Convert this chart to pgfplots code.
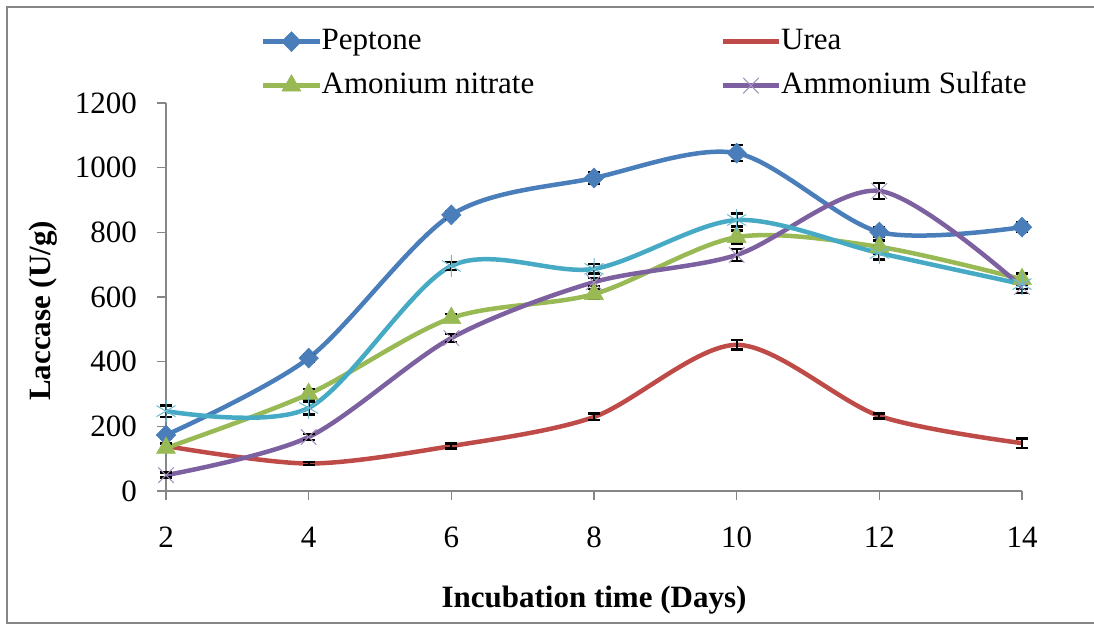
\documentclass[border=0pt]{standalone}
\usepackage{fontspec}
\setmainfont{Liberation Serif}
\usepackage{pgfplots}
\pgfplotsset{compat=1.18}
\definecolor{cPep}{HTML}{4A7EBB}
\definecolor{cUrea}{HTML}{BE4B48}
\definecolor{cNit}{HTML}{98B954}
\definecolor{cSul}{HTML}{7D60A0}
\definecolor{cCy}{HTML}{46AAC5}
\definecolor{axgray}{HTML}{868686}
\begin{document}
\begin{tikzpicture}
\useasboundingbox (0,0) rectangle (1094bp,626bp);
\draw[axgray, line width=2bp] (1094bp,3bp) -- (7bp,3bp) -- (7bp,619bp) -- (1094bp,619bp);
\begin{axis}[
  at={(166bp,135bp)}, anchor=south west,
  scale only axis, width=856bp, height=388bp,
  xmin=2, xmax=14, ymin=0, ymax=1200,
  xtick={2,4,...,14}, ytick={0,200,...,1200},
  axis lines=left, axis line style={-, axgray, line width=1.2bp},
  tick style={axgray, line width=1.2bp}, major tick length=9bp, tick align=outside,
  font=\fontsize{31bp}{36bp}\selectfont,
  /pgf/number format/assume math mode=true,
  /pgf/number format/1000 sep={},
  yticklabel style={anchor=east, inner sep=0pt, xshift=-20bp},
  xticklabel style={anchor=north, inner sep=0pt, yshift=-27bp},
  xlabel={\textbf{Incubation time (Days)}},
  ylabel={\textbf{Laccase (U/g)}},
  xlabel style={at={(axis description cs:0.5,-0.299)}, anchor=base},
  ylabel style={at={(axis description cs:-0.1355,0.464)}, anchor=base, rotate=0},
  clip=false,
  legend columns=2,
  legend style={draw=none, fill=none, inner sep=0pt, at={(axis description cs:0.111,1.196)}, anchor=north west,
    font=\fontsize{31bp}{36bp}\selectfont,
    nodes={inner sep=0pt, text height=22bp, text depth=7bp},
    row sep=15bp,
    /tikz/every odd column/.append style={column sep=0bp}},
  legend cell align=left,
  legend image code/.code={\draw[mark repeat=2,mark phase=2,#1] plot coordinates {(0bp,0bp)(28bp,0bp)(56bp,0bp)};},
  every axis plot/.append style={line width=4.5bp, smooth, tension=0.5},
  error bars/y dir=both, error bars/y explicit,
  error bars/error bar style={black, line width=2bp, solid},
  error bars/error mark options={black, line width=2.5bp, mark size=6bp, rotate=90},
]
\addplot[cPep, mark=diamond*, mark size=10bp, mark options={fill=cPep, line width=0.5bp, xscale=1.3}]
  table[x=x, y=y, y error=e] {
x y e
2 173 10
4 411 12
6 854 12
8 968 18
10 1045 25
12 801 15
14 816 15
};
\addlegendentry{\makebox[399bp][l]{Peptone}}
\addplot[cUrea, no markers]
  table[x=x, y=y, y error=e] {
x y e
2 139 8
4 85 5
6 139 8
8 229 10
10 452 15
12 232 8
14 148 15
};
\addlegendentry{Urea}
\addplot[cNit, mark=triangle*, mark size=11bp, mark options={fill=cNit, line width=0.5bp}]
  table[x=x, y=y, y error=e] {
x y e
2 133 12
4 300 15
6 535 12
8 609 15
10 785 20
12 755 20
14 655 18
};
\addlegendentry{\makebox[399bp][l]{Amonium nitrate}}
\addplot[cSul, mark=x, mark size=11bp, mark options={line width=1bp, draw=cSul!70!white}]
  table[x=x, y=y, y error=e] {
x y e
2 49 8
4 167 10
6 473 12
8 646 12
10 730 18
12 928 25
14 631 18
};
\addlegendentry{Ammonium Sulfate}
\addplot[cCy, mark=asterisk, mark size=11bp, mark options={line width=1bp, draw=cCy!80!white}, forget plot]
  table[x=x, y=y, y error=e] {
x y e
2 247 18
4 257 20
6 696 12
8 687 15
10 838 20
12 736 20
14 640 15
};
\end{axis}
\end{tikzpicture}
\end{document}
